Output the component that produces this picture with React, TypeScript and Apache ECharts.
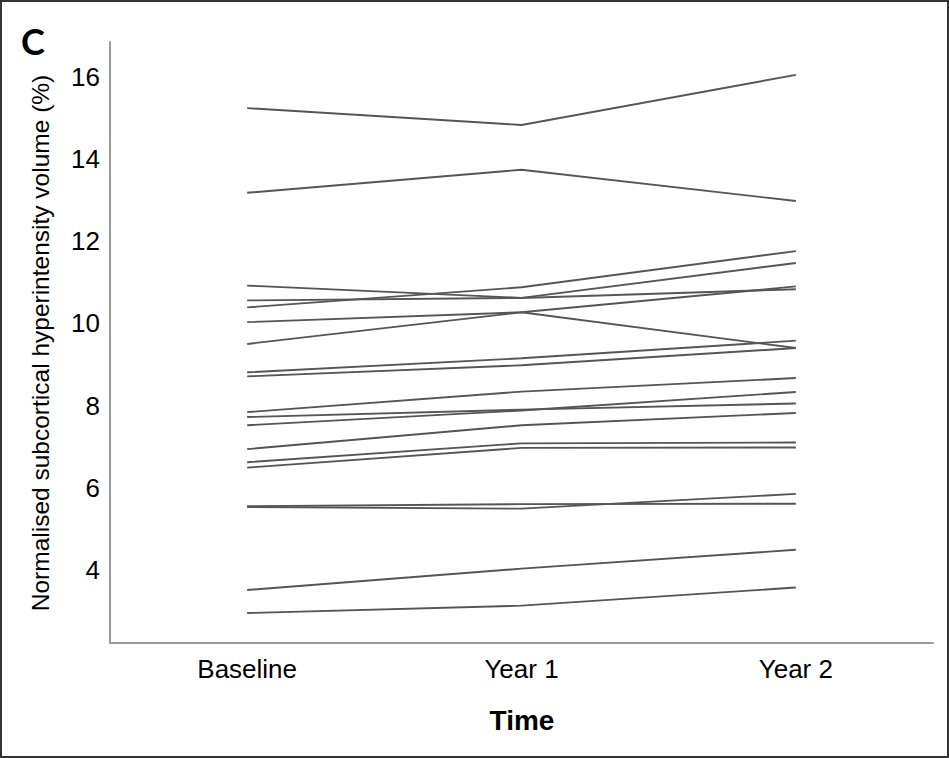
import React, { useEffect, useRef } from "react";
import * as echarts from "echarts";

const categories = ["Baseline", "Year 1", "Year 2"];
const yTickValues = [4, 6, 8, 10, 12, 14, 16];

const s01 = [15.24, 14.83, 16.05];
const s02 = [13.18, 13.74, 12.98];
const s03 = [10.92, 10.62, 10.83];
const s04 = [10.56, 10.62, 11.47];
const s05 = [10.39, 10.88, 11.76];
const s06 = [10.03, 10.27, 10.9];
const s07 = [9.5, 10.27, 9.4];
const s08 = [8.81, 9.15, 9.58];
const s09 = [8.71, 8.98, 9.4];
const s10 = [7.84, 8.34, 8.67];
const s11 = [7.72, 7.9, 8.05];
const s12 = [7.52, 7.88, 8.33];
const s13 = [6.94, 7.52, 7.82];
const s14 = [6.62, 7.08, 7.1];
const s15 = [6.49, 6.97, 6.98];
const s16 = [5.55, 5.6, 5.61];
const s17 = [5.53, 5.49, 5.85];
const s18 = [3.51, 4.03, 4.49];
const s19 = [2.95, 3.13, 3.57];

const allSeries = [s01, s02, s03, s04, s05, s06, s07, s08, s09, s10, s11, s12, s13, s14, s15, s16, s17, s18, s19];

export default function App() {
  const ref = useRef<HTMLDivElement>(null);
  useEffect(() => {
    if (!ref.current) return;
    const chart = echarts.init(ref.current, undefined, { renderer: "svg" });
    const font = "'Liberation Sans', Arial, sans-serif";
    chart.setOption({
      animation: false,
      backgroundColor: "#ffffff",
      grid: { left: 110, right: 16, top: 42, bottom: 115, containLabel: false },
      xAxis: {
        type: "category",
        data: categories,
        boundaryGap: true,
        axisLine: { show: true, lineStyle: { color: "#9a9a9a", width: 2 } },
        axisTick: { show: false },
        axisLabel: { color: "#000", fontSize: 26, fontFamily: font, margin: 13 },
        splitLine: { show: false },
      },
      yAxis: {
        type: "value",
        min: 2.22,
        max: 16.85,
        axisLine: { show: true, lineStyle: { color: "#9a9a9a", width: 2 } },
        axisTick: { show: false },
        axisLabel: {
          color: "#000",
          fontSize: 26,
          fontFamily: font,
          margin: 10,
          customValues: yTickValues,
        },
        splitLine: { show: false },
      },
      series: allSeries.map((d, i) => ({
        name: "s" + (i + 1),
        type: "line",
        data: d,
        showSymbol: false,
        symbol: "none",
        lineStyle: { color: "#555555", width: 1.9 },
        emphasis: { disabled: true },
      })),
      graphic: [
        {
          type: "rect",
          shape: { x: 1, y: 1, width: 947, height: 756 },
          style: { fill: "none", stroke: "#333333", lineWidth: 2 },
          silent: true,
        },
        {
          type: "text",
          x: 21,
          y: 41,
          style: {
            text: "C",
            font: "bold 36px Lato, 'Open Sans', sans-serif",
            fill: "#000",
            textVerticalAlign: "middle",
          },
        },
        {
          type: "text",
          x: 40,
          y: 343,
          rotation: Math.PI / 2,
          style: {
            text: "Normalised subcortical hyperintensity volume (%)",
            font: "24.5px 'Liberation Sans', Arial, sans-serif",
            fill: "#000",
            textAlign: "center",
            textVerticalAlign: "middle",
          },
        },
        {
          type: "text",
          x: 522,
          y: 720,
          style: {
            text: "Time",
            font: "bold 28px 'Liberation Sans', Arial, sans-serif",
            fill: "#000",
            textAlign: "center",
            textVerticalAlign: "middle",
          },
        },
      ],
    });
    return () => chart.dispose();
  }, []);
  return (
    <div
      ref={ref}
      style={{ position: "fixed", left: 0, top: 0, width: 949, height: 758, background: "#fff" }}
    />
  );
}
